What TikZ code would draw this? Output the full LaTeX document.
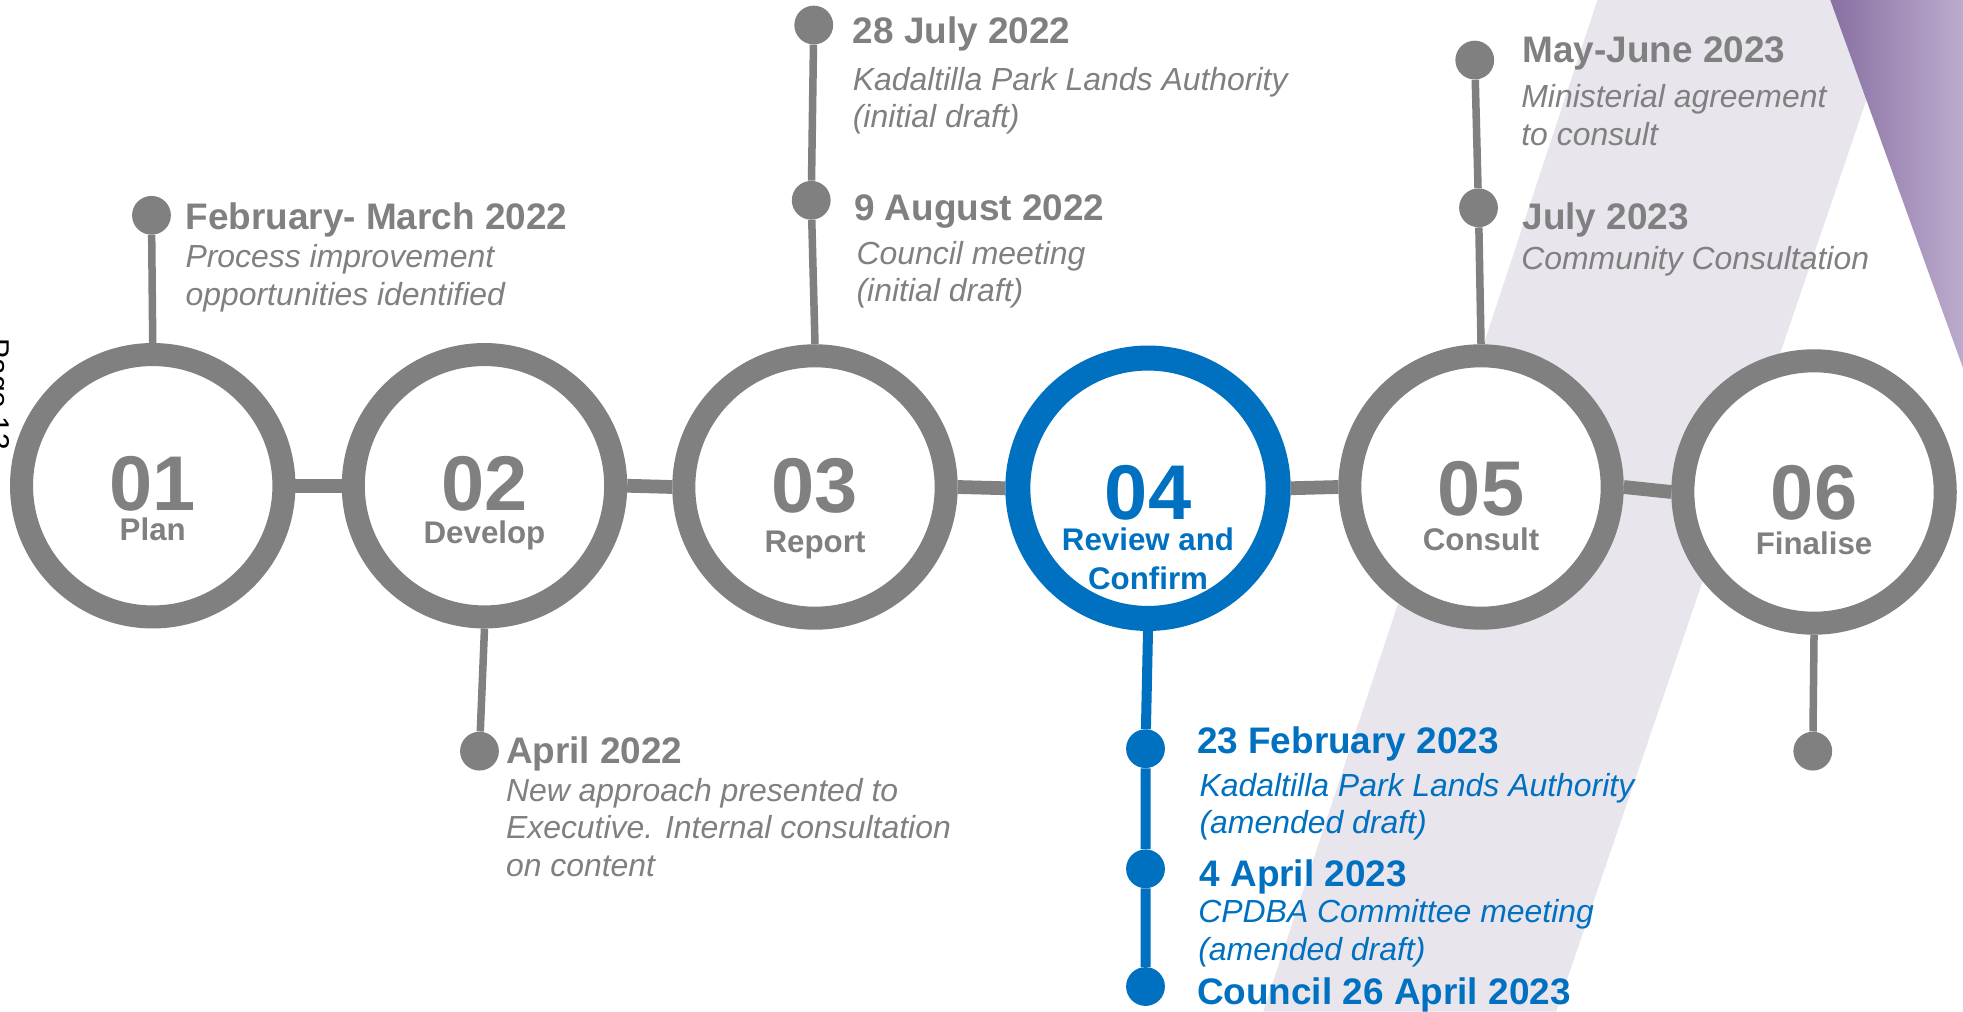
\documentclass[tikz,border=0pt]{standalone}
\usepackage{fontspec}
\setmainfont{Liberation Sans}
\definecolor{tlgray}{RGB}{128,128,128}
\definecolor{tlblue}{RGB}{0,112,192}
\definecolor{lav}{RGB}{233,229,237}
\definecolor{purpD}{RGB}{136,112,162}
\definecolor{purpL}{RGB}{188,171,206}
\begin{document}
\begin{tikzpicture}[x=1pt,y=-1pt,
  ring/.style={circle, draw=tlgray, line width=18.4pt, fill=white, minimum size=209.6pt, inner sep=0pt},
  bluering/.style={ring, draw=tlblue, line width=20pt, minimum size=208pt},
  dot/.style={circle, fill=tlgray, minimum size=31pt, inner sep=0pt},
  bluedot/.style={dot, fill=tlblue},
  stem/.style={draw=tlgray, line width=6pt},
  bluestem/.style={draw=tlblue, line width=8pt},
  bar/.style={draw=tlgray, line width=11pt},
  head/.style={anchor=base west, inner sep=0pt, text=tlgray, font=\fontsize{29.5}{30}\selectfont\bfseries},
  body/.style={anchor=base west, inner sep=0pt, text=tlgray, font=\fontsize{25.5}{26}\selectfont\itshape},
  bhead/.style={head, text=tlblue},
  bbody/.style={body, text=tlblue},
  num/.style={anchor=base, inner sep=0pt, text=tlgray, font=\fontsize{62}{62}\selectfont\bfseries},
  lab/.style={anchor=base, inner sep=0pt, text=tlgray, font=\fontsize{25}{25}\selectfont\bfseries},
]
% background
\fill[white] (0,0) rectangle (1568,808);
\useasboundingbox (0,0) rectangle (1568,808);
\fill[lav] (1276,0) -- (1518,0) -- (1243,808) -- (1009,808) -- cycle;
\shade[left color=purpD, right color=purpL] (1462,0) -- (1568,0) -- (1568,294) -- cycle;

% page label (cut at the left edge)
\node[rotate=-90, anchor=base, inner sep=0pt, font=\fontsize{24}{24}\selectfont] (pg) at (-9,315) {Page 13};

% rings
\node[ring] (c1) at (122,388) {};
\node[ring] (c2) at (387,388) {};
\node[ring] (c3) at (651,389) {};
\node[bluering] (c4) at (917,390) {};
\node[ring] (c5) at (1183,389) {};
\node[ring] (c6) at (1449,393) {};

% connector bars
\draw[bar] (c1.east) -- (c2.west);
\draw[bar] (c2.east) -- (c3.west);
\draw[bar] (c3.east) -- (c4.west);
\draw[bar] (c4.east) -- (c5.west);
\draw[bar] (c5.east) -- (c6.west);

% dots
\node[dot] (d1) at (121,172) {};
\node[dot] (d2) at (383,600) {};
\node[dot] (d3a) at (650,20) {};
\node[dot] (d3b) at (648,160) {};
\node[bluedot] (d4a) at (915,598) {};
\node[bluedot] (d4b) at (915,694) {};
\node[bluedot] (d4c) at (915,788) {};
\node[dot] (d5a) at (1178,48) {};
\node[dot] (d5b) at (1181,166) {};
\node[dot] (d6) at (1448,600) {};

% stems
\draw[stem] (d1) -- (c1.north);
\draw[stem] (c2.south) -- (d2);
\draw[stem] (d3a) -- (d3b) -- (c3.north);
\draw[bluestem] (c4.south) -- (d4a) -- (d4b) -- (d4c);
\draw[stem] (d5a) -- (d5b) -- (c5.north);
\draw[stem] (c6.south) -- (d6);

% ring texts
\node[num] (n1) at (122,408) {01};
\node[lab] (l1) at (122,432) {Plan};
\node[num] (n2) at (387,408) {02};
\node[lab] (l2) at (387,434) {Develop};
\node[num] (n3) at (651,409) {03};
\node[lab] (l3) at (651,441) {Report};
\node[num, text=tlblue] (n4) at (917,415) {04};
\node[lab, text=tlblue] (l4a) at (917,440) {Review and};
\node[lab, text=tlblue] (l4b) at (917,471) {Confirm};
\node[num] (n5) at (1183,412) {05};
\node[lab] (l5) at (1183,440) {Consult};
\node[num] (n6) at (1449,415) {06};
\node[lab] (l6) at (1449,443) {Finalise};

% milestone texts
\node[head] (h1) at (148,183) {February- March 2022};
\node[body] (b1a) at (148,214) {Process improvement};
\node[body] (b1b) at (148,244) {opportunities identified};

\node[head] (h2) at (404,610) {April 2022};
\node[body] (b2a) at (404,640) {New approach presented to};
\node[body] (b2b) at (404,670) {Executive. Internal consultation};
\node[body] (b2c) at (404,700) {on content};

\node[head] (h3a) at (681,35) {28 July 2022};
\node[body] (b3a) at (681,72) {Kadaltilla Park Lands Authority};
\node[body] (b3b) at (681,102) {(initial draft)};
\node[head] (h3b) at (682,176) {9 August 2022};
\node[body] (b3c) at (684,211) {Council meeting};
\node[body] (b3d) at (684,241) {(initial draft)};

\node[bhead] (h4a) at (956,602) {23 February 2023};
\node[bbody] (b4a) at (958,636) {Kadaltilla Park Lands Authority};
\node[bbody] (b4b) at (958,666) {(amended draft)};
\node[bhead] (h4b) at (958,708) {4 April 2023};
\node[bbody] (b4c) at (957,737) {CPDBA Committee meeting};
\node[bbody] (b4d) at (957,767) {(amended draft)};
\node[bhead] (h4c) at (956,802) {Council 26 April 2023};

\node[head] (h5a) at (1216,50) {May-June 2023};
\node[body] (b5a) at (1215,86) {Ministerial agreement};
\node[body] (b5b) at (1215,116) {to consult};
\node[head] (h5b) at (1216,183) {July 2023};
\node[body] (b5c) at (1215,215) {Community Consultation};
\end{tikzpicture}
\end{document}
